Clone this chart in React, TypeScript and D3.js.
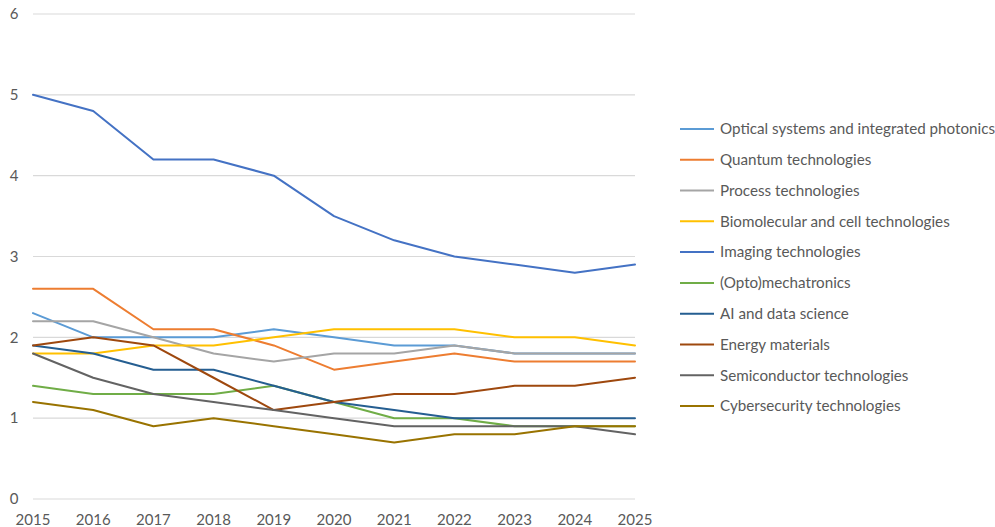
import React from "react";
import * as d3 from "d3";

const years = [2015, 2016, 2017, 2018, 2019, 2020, 2021, 2022, 2023, 2024, 2025];
const yTicks = [0, 1, 2, 3, 4, 5, 6];

const seriesNames = [
  "Optical systems and integrated photonics",
  "Quantum technologies",
  "Process technologies",
  "Biomolecular and cell technologies",
  "Imaging technologies",
  "(Opto)mechatronics",
  "AI and data science",
  "Energy materials",
  "Semiconductor technologies",
  "Cybersecurity technologies",
];
const seriesColors = [
  "#5B9BD5", "#ED7D31", "#A5A5A5", "#FFC000", "#4472C4",
  "#70AD47", "#255E91", "#9E480E", "#636363", "#997300",
];

const optical = [2.3, 2.0, 2.0, 2.0, 2.1, 2.0, 1.9, 1.9, 1.8, 1.8, 1.8];
const quantum = [2.6, 2.6, 2.1, 2.1, 1.9, 1.6, 1.7, 1.8, 1.7, 1.7, 1.7];
const process = [2.2, 2.2, 2.0, 1.8, 1.7, 1.8, 1.8, 1.9, 1.8, 1.8, 1.8];
const biomolecular = [1.8, 1.8, 1.9, 1.9, 2.0, 2.1, 2.1, 2.1, 2.0, 2.0, 1.9];
const imaging = [5.0, 4.8, 4.2, 4.2, 4.0, 3.5, 3.2, 3.0, 2.9, 2.8, 2.9];
const optomechatronics = [1.4, 1.3, 1.3, 1.3, 1.4, 1.2, 1.0, 1.0, 0.9, 0.9, 0.9];
const aiData = [1.9, 1.8, 1.6, 1.6, 1.4, 1.2, 1.1, 1.0, 1.0, 1.0, 1.0];
const energy = [1.9, 2.0, 1.9, 1.5, 1.1, 1.2, 1.3, 1.3, 1.4, 1.4, 1.5];
const semiconductor = [1.8, 1.5, 1.3, 1.2, 1.1, 1.0, 0.9, 0.9, 0.9, 0.9, 0.8];
const cybersecurity = [1.2, 1.1, 0.9, 1.0, 0.9, 0.8, 0.7, 0.8, 0.8, 0.9, 0.9];

const seriesValues = [
  optical, quantum, process, biomolecular, imaging,
  optomechatronics, aiData, energy, semiconductor, cybersecurity,
];

const W = 995;
const H = 527;
const FONT = "Lato, 'Open Sans', sans-serif";

export default function App() {
  const x = d3.scaleLinear().domain([2015, 2025]).range([33, 635]);
  const y = d3.scaleLinear().domain([0, 6]).range([499, 14]);
  const line = d3
    .line<number>()
    .x((_, i) => x(years[i]))
    .y((d) => y(d));

  const legendY = d3.scaleLinear().domain([0, 9]).range([129, 406]);

  return (
    <svg
      width={W}
      height={H}
      style={{ position: "absolute", left: 0, top: 0, background: "#fff" }}
      fontFamily={FONT}
    >
      {yTicks.map((t) => (
        <g key={t}>
          <line x1={33} x2={635} y1={y(t)} y2={y(t)} stroke="#D9D9D9" strokeWidth={1.2} />
          <text x={14} y={y(t)} dy="0.35em" textAnchor="middle" fontSize={15} fill="#595959">
            {t}
          </text>
        </g>
      ))}
      {years.map((yr) => (
        <text key={yr} x={x(yr)} y={525} textAnchor="middle" fontSize={15} fill="#595959">
          {yr}
        </text>
      ))}
      {seriesValues.map((vals, i) => (
        <path
          key={seriesNames[i]}
          d={line(vals) || ""}
          fill="none"
          stroke={seriesColors[i]}
          strokeWidth={2}
          strokeLinejoin="round"
          strokeLinecap="round"
        />
      ))}
      {seriesNames.map((name, i) => (
        <g key={name}>
          <line
            x1={680}
            x2={714}
            y1={legendY(i)}
            y2={legendY(i)}
            stroke={seriesColors[i]}
            strokeWidth={2}
          />
          <text x={720} y={legendY(i)} dy="0.35em" fontSize={15.2} fill="#595959">
            {name}
          </text>
        </g>
      ))}
    </svg>
  );
}
